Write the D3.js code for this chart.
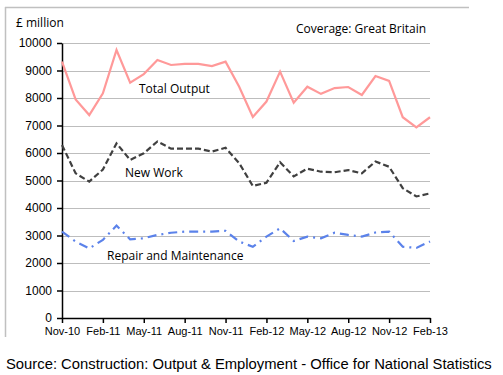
<!DOCTYPE html>
<html>
<head>
<meta charset="utf-8">
<script src="https://cdn.jsdelivr.net/npm/d3@7"></script>
<style>
body { margin: 0; background: #fff; }
</style>
</head>
<body>
<div id="chart"></div>
<script>
var months = ["Nov-10","Dec-10","Jan-11","Feb-11","Mar-11","Apr-11","May-11","Jun-11","Jul-11","Aug-11","Sep-11","Oct-11",
    "Nov-11","Dec-11","Jan-12","Feb-12","Mar-12","Apr-12","May-12","Jun-12","Jul-12","Aug-12","Sep-12","Oct-12",
    "Nov-12","Dec-12","Jan-13","Feb-13"];
var tickLabels = ["Nov-10","Feb-11","May-11","Aug-11","Nov-11","Feb-12","May-12","Aug-12","Nov-12","Feb-13"];
var yTicks = [0,1000,2000,3000,4000,5000,6000,7000,8000,9000,10000];

var totalOutput = [9320,7950,7380,8170,9745,8560,8870,9380,9200,9240,9240,9160,
    9320,8410,7310,7870,8960,7830,8410,8150,8360,8400,8110,8800,8620,7300,6930,7300];
var newWork = [6290,5260,4960,5400,6350,5750,5990,6420,6160,6160,6160,6050,
    6190,5630,4800,4920,5660,5150,5430,5320,5300,5380,5260,5690,5500,4720,4420,4530];
var repair = [3140,2780,2530,2840,3360,2860,2900,3020,3100,3140,3140,3140,
    3170,2780,2590,2960,3260,2800,2960,2900,3100,3020,2960,3110,3140,2590,2550,2780];

var width = 503, height = 375;
var margin = {left: 62, right: 73, top: 43, bottom: 57};

var svg = d3.select("#chart").append("svg")
    .attr("width", width)
    .attr("height", height);

// frame lines (top and left only)
svg.append("line").attr("x1", 5).attr("x2", 469).attr("y1", 7.5).attr("y2", 7.5)
    .attr("stroke", "#c0c0c0").attr("stroke-width", 1.5);
svg.append("line").attr("x1", 5.5).attr("x2", 5.5).attr("y1", 7).attr("y2", 337)
    .attr("stroke", "#c0c0c0").attr("stroke-width", 1.5);

var x = d3.scalePoint().domain(months).range([margin.left, width - margin.right]);
var y = d3.scaleLinear().domain([0, 10000]).range([height - margin.bottom, margin.top]);

// gridlines
svg.append("g").selectAll("line")
    .data(yTicks.slice(1))
    .enter().append("line")
    .attr("x1", margin.left)
    .attr("x2", width - margin.right)
    .attr("y1", function(d) { return Math.round(y(d)) + 0.5; })
    .attr("y2", function(d) { return Math.round(y(d)) + 0.5; })
    .attr("stroke", "#bdbdbd")
    .attr("stroke-width", 1);

var xAxis = d3.axisBottom(x).tickValues(tickLabels).tickSize(5).tickSizeOuter(0);
var yAxis = d3.axisLeft(y).tickValues(yTicks).tickSize(5).tickSizeOuter(0)
    .tickFormat(d3.format("d"));

var gx = svg.append("g")
    .attr("transform", "translate(0," + (height - margin.bottom) + ")")
    .call(xAxis);
gx.selectAll("text").attr("font-family", "Liberation Sans, Arial, sans-serif")
    .attr("font-size", 11).attr("fill", "#000").attr("dy", "0.85em");

var gy = svg.append("g")
    .attr("transform", "translate(" + margin.left + ",0)")
    .call(yAxis);
gy.selectAll("text").attr("font-family", "Liberation Sans, Arial, sans-serif")
    .attr("font-size", 12).attr("fill", "#000").attr("x", -10);

svg.selectAll(".domain, .tick line").attr("stroke", "#000").attr("stroke-width", 1.5);

var line = d3.line()
    .x(function(d, i) { return x(months[i]); })
    .y(function(d) { return y(d); });

svg.append("path").datum(totalOutput)
    .attr("d", line).attr("fill", "none")
    .attr("stroke", "#ff9999").attr("stroke-width", 2.2);

svg.append("path").datum(newWork)
    .attr("d", line).attr("fill", "none")
    .attr("stroke", "#404040").attr("stroke-width", 2.2)
    .attr("stroke-dasharray", "6,3");

svg.append("path").datum(repair)
    .attr("d", line).attr("fill", "none")
    .attr("stroke", "#5b82ea").attr("stroke-width", 2.2)
    .attr("stroke-dasharray", "9,5,2,5");

var labelFont = "Open Sans, Noto Sans, sans-serif";
function label(txt, lx, ly, size) {
    svg.append("text").attr("x", lx).attr("y", ly)
        .attr("font-family", labelFont).attr("font-size", size)
        .attr("fill", "#000").text(txt);
}
label("£ million", 16, 27, 12);
label("Coverage: Great Britain", 296, 33, 12);
label("Total Output", 139, 93, 12);
label("New Work", 125, 177, 12);
label("Repair and Maintenance", 107, 260, 12);

svg.append("text").attr("x", 6).attr("y", 369)
    .attr("font-family", "Liberation Sans, Arial, sans-serif")
    .attr("font-size", 14.8).attr("fill", "#000")
    .text("Source: Construction: Output & Employment - Office for National Statistics");
</script>
</body>
</html>
